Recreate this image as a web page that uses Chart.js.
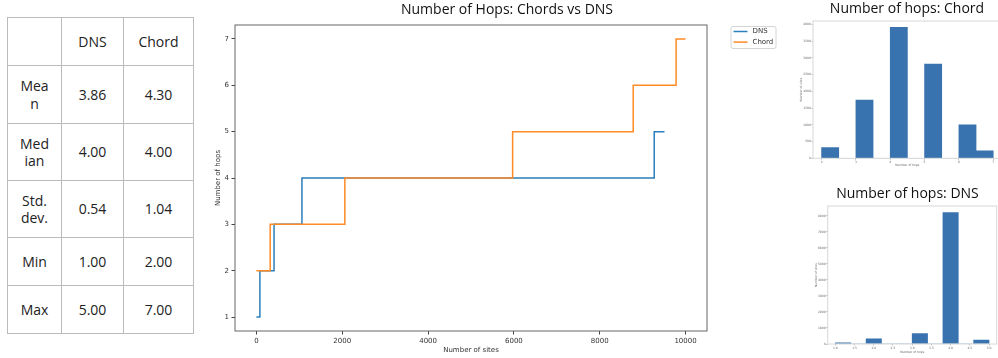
<!DOCTYPE html>
<html>
<head>
<meta charset="utf-8">
<title>Number of hops: Chord vs DNS</title>
<script src="https://cdn.jsdelivr.net/npm/chart.js@4.4.1/dist/chart.umd.min.js"></script>
<style>
  html, body { margin: 0; padding: 0; background: #fff; }
  body { position: relative; width: 998px; height: 358px; overflow: hidden; }
  canvas { position: absolute; }
  #stats {
    position: absolute; left: 7px; top: 17px;
    border-collapse: collapse; table-layout: fixed;
    font-family: "Open Sans", sans-serif; font-size: 14px; color: #222;
  }
  #stats td {
    border: 1px solid #bbb; text-align: center; vertical-align: middle;
    padding: 0; line-height: 17.5px;
  }
  #stats td .name { width: 30.5px; margin: 0 auto; word-break: break-all; }
</style>
</head>
<body>
<table id="stats"></table>
<canvas id="steps" width="610" height="358" style="left:195px;top:0px;width:610px;height:358px"></canvas>
<canvas id="chordHist" width="230" height="170" style="left:780px;top:0px;width:230px;height:170px"></canvas>
<canvas id="dnsHist" width="230" height="188" style="left:780px;top:170px;width:230px;height:188px"></canvas>
<script>
// Number of sites that needed each hop count
const dnsHops = [1, 2, 3, 4, 5];
const dnsSites = [80, 330, 650, 8210, 240];
const chordHops = [2, 3, 4, 5, 6, 7];
const chordSites = [320, 1740, 3910, 2810, 1000, 220];

// Summary statistics
const statNames = ['Mean', 'Median', 'Std. dev.', 'Min', 'Max'];
const dnsStats = [3.86, 4.00, 0.54, 1.00, 5.00];
const chordStats = [4.30, 4.00, 1.04, 2.00, 7.00];

// Tick values
const stepXTicks = [0, 2000, 4000, 6000, 8000, 10000];
const stepYTicks = [1, 2, 3, 4, 5, 6, 7];
const chordHistXTicks = [2, 3, 4, 5, 6, 7];
const chordHistYTicks = [0, 500, 1000, 1500, 2000, 2500, 3000, 3500, 4000];
const dnsHistXTicks = [1.0, 1.5, 2.0, 2.5, 3.0, 3.5, 4.0, 4.5, 5.0];
const dnsHistYTicks = [0, 1000, 2000, 3000, 4000, 5000, 6000, 7000, 8000];

const BLUE = '#2b7fbb';
const ORANGE = '#ff8a26';
const BAR = '#3873b0';
const TICK_FONT = 'DejaVu Sans';
const TITLE_FONT = 'Open Sans';

// ---- statistics table ----
(function buildTable() {
  const t = document.getElementById('stats');
  const colW = [53, 61, 69];
  const rowH = [48, 58, 57, 57, 48, 48];
  const head = t.insertRow();
  head.style.height = rowH[0] + 'px';
  ['', 'DNS', 'Chord'].forEach((txt, i) => {
    const c = head.insertCell();
    c.style.width = colW[i] + 'px';
    c.textContent = txt;
  });
  statNames.forEach((name, r) => {
    const row = t.insertRow();
    row.style.height = rowH[r + 1] + 'px';
    const c0 = row.insertCell();
    const d = document.createElement('div');
    d.className = 'name';
    d.textContent = name;
    c0.appendChild(d);
    row.insertCell().textContent = dnsStats[r].toFixed(2);
    row.insertCell().textContent = chordStats[r].toFixed(2);
  });
})();

// Sorted hop counts as a step line: x = rank of the site, y = hops
function stepPoints(hops, sites) {
  const pts = [];
  let rank = 0;
  hops.forEach((h, i) => {
    pts.push({ x: rank, y: h });
    rank += sites[i];
  });
  pts.push({ x: rank - 1, y: hops[hops.length - 1] });
  return pts;
}

// Equal-width histogram over [lo, hi] with nBins bins
function histogram(hops, sites, lo, hi, nBins) {
  const w = (hi - lo) / nBins;
  const counts = new Array(nBins).fill(0);
  hops.forEach((h, i) => {
    const k = Math.min(nBins - 1, Math.floor((h - lo) / w + 1e-9));
    counts[k] += sites[i];
  });
  return counts.map((c, k) => ({ x: lo + (k + 0.5) * w, y: c }));
}

// Plot frame on all four sides
const framePlugin = {
  id: 'frame',
  afterDatasetsDraw(chart, args, opts) {
    const { ctx, chartArea: a } = chart;
    ctx.save();
    ctx.strokeStyle = opts.color;
    ctx.lineWidth = opts.width;
    ctx.strokeRect(a.left, a.top, a.right - a.left, a.bottom - a.top);
    ctx.restore();
  }
};

// Panel heading
const headingPlugin = {
  id: 'heading',
  afterDraw(chart, args, opts) {
    const ctx = chart.ctx;
    ctx.save();
    ctx.font = `${opts.size}px "${TITLE_FONT}"`;
    ctx.fillStyle = '#111';
    ctx.textAlign = 'center';
    ctx.textBaseline = 'alphabetic';
    ctx.fillText(opts.text, opts.x, opts.y);
    ctx.restore();
  }
};

// Boxed legend to the right of the step chart
const legendBoxPlugin = {
  id: 'legendBox',
  afterDraw(chart, args, opts) {
    const ctx = chart.ctx;
    const a = chart.chartArea;
    const x0 = a.right + opts.gap, y0 = a.top + 1;
    const w = 45, h = 22;
    ctx.save();
    ctx.fillStyle = '#fff';
    ctx.strokeStyle = '#d4d4d4';
    ctx.lineWidth = 1;
    ctx.beginPath();
    ctx.roundRect(x0 + 0.5, y0 + 0.5, w, h, 2);
    ctx.fill();
    ctx.stroke();
    ctx.font = `7px "${TICK_FONT}"`;
    ctx.textBaseline = 'middle';
    ctx.textAlign = 'left';
    chart.data.datasets.forEach((ds, i) => {
      const y = y0 + 5.5 + i * 10.6;
      ctx.strokeStyle = ds.borderColor;
      ctx.lineWidth = 1.5;
      ctx.beginPath();
      ctx.moveTo(x0 + 3, y);
      ctx.lineTo(x0 + 17, y);
      ctx.stroke();
      ctx.fillStyle = '#333';
      ctx.fillText(ds.label, x0 + 22, y);
    });
    ctx.restore();
  }
};

function fixedTicks(values) {
  return s => { s.ticks = values.map(v => ({ value: v })); };
}

function axis(opts) {
  return {
    type: 'linear',
    min: opts.min, max: opts.max,
    offset: false,
    afterBuildTicks: fixedTicks(opts.ticks),
    afterFit: opts.fit,
    grid: {
      display: true, drawOnChartArea: false, drawTicks: true, offset: false,
      tickLength: opts.tickLength, color: opts.tickColor, lineWidth: 1
    },
    border: { display: false },
    ticks: {
      autoSkip: false, maxRotation: 0, minRotation: 0,
      padding: opts.tickPad,
      color: opts.textColor,
      font: { family: TICK_FONT, size: opts.fontSize },
      callback: opts.format || (v => String(v))
    },
    title: {
      display: true, text: opts.title, color: opts.textColor,
      font: { family: TICK_FONT, size: opts.fontSize },
      padding: opts.titlePad
    }
  };
}

Chart.defaults.animation = false;
Chart.defaults.devicePixelRatio = 1;

// ---- sorted hop counts, DNS vs Chord ----
new Chart(document.getElementById('steps'), {
  type: 'line',
  data: {
    datasets: [
      { label: 'DNS', data: stepPoints(dnsHops, dnsSites), borderColor: BLUE,
        borderWidth: 1.5, pointRadius: 0, stepped: true, fill: false, order: 1 },
      { label: 'Chord', data: stepPoints(chordHops, chordSites), borderColor: ORANGE,
        borderWidth: 1.5, pointRadius: 0, stepped: true, fill: false, order: 0 }
    ]
  },
  options: {
    responsive: false,
    layout: { padding: { left: 0, top: 25, right: 98, bottom: 0 } },
    plugins: {
      legend: { display: false },
      tooltip: { enabled: false },
      frame: { color: '#666', width: 1 },
      heading: { text: 'Number of Hops: Chords vs DNS', x: 312, y: 14, size: 14 },
      legendBox: { gap: 23.5 }
    },
    scales: {
      x: axis({ min: -500, max: 10500, ticks: stepXTicks, fit: s => { s.height = 27; },
                tickLength: 3.5, tickColor: '#444', tickPad: 2.5, textColor: '#333', fontSize: 7,
                title: 'Number of sites', titlePad: { top: 0, bottom: 3.8 } }),
      y: axis({ min: 0.7, max: 7.3, ticks: stepYTicks, fit: s => { s.width = 40; },
                tickLength: 3.5, tickColor: '#444', tickPad: 2.5, textColor: '#333', fontSize: 7,
                title: 'Number of hops', titlePad: { top: 18.8, bottom: 0 } })
    }
  },
  plugins: [framePlugin, headingPlugin, legendBoxPlugin]
});

// ---- histogram: Chord ----
new Chart(document.getElementById('chordHist'), {
  type: 'bar',
  data: {
    datasets: [{ label: 'Chord', data: histogram(chordHops, chordSites, 2, 7, 10),
                 backgroundColor: BAR, borderWidth: 0, barPercentage: 1, categoryPercentage: 1 }]
  },
  options: {
    responsive: false,
    layout: { padding: { left: 0, top: 21, right: 8.2, bottom: 0 } },
    plugins: {
      legend: { display: false },
      tooltip: { enabled: false },
      frame: { color: '#d8d8d8', width: 1 },
      heading: { text: 'Number of hops: Chord', x: 127, y: 12.7, size: 14 }
    },
    scales: {
      x: axis({ min: 1.75, max: 7.25, ticks: chordHistXTicks, fit: s => { s.height = 11.7; },
                tickLength: 1.5, tickColor: '#bbb', tickPad: 0.8, textColor: '#666', fontSize: 3,
                title: 'Number of hops', titlePad: { top: 0, bottom: 3.2 } }),
      y: axis({ min: 0, max: 4100, ticks: chordHistYTicks, fit: s => { s.width = 33; },
                tickLength: 1.5, tickColor: '#bbb', tickPad: 0.6, textColor: '#666', fontSize: 3,
                title: 'Number of sites', titlePad: { top: 19.2, bottom: 0 } })
    }
  },
  plugins: [framePlugin, headingPlugin]
});

// ---- histogram: DNS ----
new Chart(document.getElementById('dnsHist'), {
  type: 'bar',
  data: {
    datasets: [{ label: 'DNS', data: histogram(dnsHops, dnsSites, 1, 5, 10),
                 backgroundColor: BAR, borderWidth: 0, barPercentage: 1, categoryPercentage: 1 }]
  },
  options: {
    responsive: false,
    layout: { padding: { left: 0, top: 36, right: 13.3, bottom: 0 } },
    plugins: {
      legend: { display: false },
      tooltip: { enabled: false },
      frame: { color: '#d8d8d8', width: 1 },
      heading: { text: 'Number of hops: DNS', x: 127.5, y: 27.7, size: 14 }
    },
    scales: {
      x: axis({ min: 0.8, max: 5.2, ticks: dnsHistXTicks, fit: s => { s.height = 14; },
                tickLength: 1.5, tickColor: '#bbb', tickPad: 0.8, textColor: '#666', fontSize: 3,
                title: 'Number of hops', titlePad: { top: 0, bottom: 3.9 },
                format: v => v.toFixed(1) }),
      y: axis({ min: 0, max: 8620, ticks: dnsHistYTicks, fit: s => { s.width = 47.7; },
                tickLength: 1.5, tickColor: '#bbb', tickPad: 0.6, textColor: '#666', fontSize: 3,
                title: 'Number of sites', titlePad: { top: 34.9, bottom: 0 } })
    }
  },
  plugins: [framePlugin, headingPlugin]
});
</script>
</body>
</html>
